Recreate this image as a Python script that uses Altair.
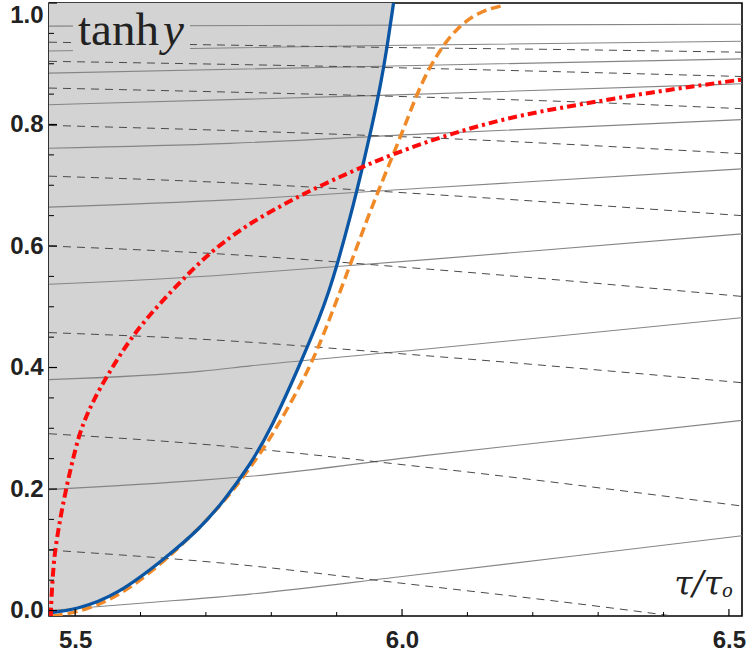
import altair as alt
import pandas as pd

# ---------------- data ----------------
X_DOMAIN = [5.46, 6.52]
Y_DOMAIN = [-0.009, 1.0]

X_LABELS = [5.5, 6.0, 6.5]
X_MINOR = [5.6, 5.7, 5.8, 5.9, 6.1, 6.2, 6.3, 6.4]
Y_LABELS = [0.0, 0.2, 0.4, 0.6, 0.8, 1.0]
Y_MINOR = [0.05, 0.1, 0.15, 0.25, 0.3, 0.35, 0.45, 0.5, 0.55, 0.65, 0.7, 0.75, 0.85, 0.9, 0.95]

BLUE_X = [5.460, 5.500, 5.564, 5.640, 5.691, 5.727, 5.768, 5.800, 5.844, 5.875, 5.888,
          5.9005, 5.921, 5.939, 5.954, 5.967, 5.977, 5.987, 5.989]
BLUE_Y = [-0.004, 0.001, 0.025, 0.088, 0.135, 0.180, 0.240, 0.300, 0.405, 0.485, 0.525,
          0.568, 0.648, 0.727, 0.797, 0.864, 0.926, 1.000, 1.015]

ORANGE_X = [5.466, 5.500, 5.564, 5.640, 5.727, 5.783, 5.809, 5.860, 5.890, 5.921, 5.947,
            5.962, 5.987, 6.008, 6.028, 6.054, 6.084, 6.120, 6.155]
ORANGE_Y = [-0.009, -0.004, 0.020, 0.083, 0.175, 0.258, 0.302, 0.400, 0.482, 0.570, 0.645,
            0.686, 0.752, 0.808, 0.865, 0.917, 0.960, 0.987, 0.996]

RED_X = [5.4628, 5.4635, 5.466, 5.469, 5.482, 5.502, 5.513, 5.528, 5.548, 5.589, 5.640,
         5.701, 5.737, 5.768, 5.839, 5.921, 5.987, 6.074, 6.176, 6.278, 6.380, 6.513, 6.520]
RED_Y = [-0.010, 0.017, 0.060, 0.100, 0.182, 0.275, 0.310, 0.346, 0.385, 0.456, 0.518,
         0.585, 0.614, 0.638, 0.681, 0.722, 0.752, 0.785, 0.815, 0.834, 0.853, 0.873, 0.874]

SOLID_LINES = {
    "s1": ([5.46, 5.60, 5.768, 6.0, 6.25, 6.52], [0.0, 0.012, 0.027, 0.056, 0.088, 0.123]),
    "s2": ([5.46, 5.694, 5.768, 6.03, 6.52], [0.199, 0.2146, 0.221, 0.2546, 0.313]),
    "s3": ([5.46, 5.694, 5.768, 6.03, 6.52], [0.380, 0.394, 0.4027, 0.4296, 0.482]),
    "s4": ([5.46, 5.737, 5.768, 6.043, 6.52], [0.537, 0.553, 0.5556, 0.578, 0.620]),
    "s5": ([5.46, 5.737, 6.043, 6.52], [0.664, 0.676, 0.696, 0.727]),
    "s6": ([5.46, 5.737, 6.043, 6.52], [0.761, 0.769, 0.785, 0.808]),
    "s7": ([5.46, 5.967, 6.52], [0.8326, 0.848, 0.867]),
    "s8": ([5.46, 5.967, 6.52], [0.8846, 0.896, 0.908]),
    "s9": ([5.46, 5.676, 5.967, 6.52], [0.921, 0.925, 0.930, 0.937]),
    "s10": ([5.46, 6.52], [0.962, 0.965]),
}

DASHED_LINES = {
    "a": ([5.46, 5.967, 6.273, 6.52], [0.9355, 0.927, 0.923, 0.919]),
    "b": ([5.46, 5.967, 6.273, 6.52], [0.904, 0.894, 0.886, 0.879]),
    "c": ([5.46, 5.967, 6.273, 6.52], [0.860, 0.847, 0.837, 0.826]),
    "d": ([5.46, 5.737, 6.043, 6.52], [0.7985, 0.790, 0.778, 0.752]),
    "e": ([5.46, 5.737, 6.043, 6.52], [0.715, 0.704, 0.685, 0.650]),
    "f": ([5.46, 5.737, 6.043, 6.52], [0.600, 0.586, 0.5617, 0.517]),
    "g": ([5.46, 5.694, 6.03, 6.52], [0.4575, 0.4465, 0.420, 0.375]),
    "h": ([5.46, 5.694, 6.03, 6.52], [0.291, 0.2738, 0.2366, 0.172]),
    "i": ([5.46, 5.768, 5.967, 6.40, 6.52], [0.0995, 0.0737, 0.049, -0.007, -0.025]),
}

TITLE_Y = ["tanh", "y"]
TITLE_X = ["τ/τ", "o"]

# ---------------- build tables ----------------
def curve_df(xs, ys):
    return pd.DataFrame({"x": xs, "y": ys})

def lines_df(d):
    rows = []
    for k, (xs, ys) in d.items():
        for a, b in zip(xs, ys):
            rows.append({"id": k, "x": a, "y": b})
    return pd.DataFrame(rows)

blue_df = curve_df(BLUE_X, BLUE_Y)
orange_df = curve_df(ORANGE_X, ORANGE_Y)
red_df = curve_df(RED_X, RED_Y)
solid_df = lines_df(SOLID_LINES)
dashed_df = lines_df(DASHED_LINES)

W, H = 693, 613

xscale = alt.Scale(domain=X_DOMAIN, nice=False, zero=False)
yscale = alt.Scale(domain=Y_DOMAIN, nice=False, zero=False)
xaxis = alt.Axis(values=X_LABELS, format=".1f", ticks=False, tickSize=0, domain=False,
                 grid=False, labelFontSize=24, labelFontWeight="bold",
                 labelFont="Liberation Sans", labelColor="#222222", labelPadding=12)
yaxis = alt.Axis(values=Y_LABELS, format=".1f", ticks=False, tickSize=0, domain=False,
                 grid=False, labelFontSize=24, labelFontWeight="bold",
                 labelFont="Liberation Sans", labelColor="#222222", labelPadding=6,
                 labelOffset={"condition": {"test": "datum.value >= 1", "value": 12}, "value": 0})

X = alt.X("x:Q", scale=xscale, axis=xaxis, title=None)
Y = alt.Y("y:Q", scale=yscale, axis=yaxis, title=None)

area = alt.Chart(blue_df).mark_area(orient="horizontal", color="#d3d3d3",
                                    interpolate="basis", clip=True).encode(
    y=Y, x=X, x2=alt.value(0))

solid = alt.Chart(solid_df).mark_line(color="#858585", strokeWidth=1.1,
                                      interpolate="monotone", clip=True).encode(
    x=X, y=Y, detail="id:N")

dashed = alt.Chart(dashed_df).mark_line(color="#4a4a4a", strokeWidth=1.0, strokeDash=[8, 6],
                                        interpolate="monotone", clip=True).encode(
    x=X, y=Y, detail="id:N")

label_bg = alt.Chart(pd.DataFrame({"k": [0]})).mark_rect(color="#d3d3d3").encode(
    x=alt.value(24), x2=alt.value(141), y=alt.value(12), y2=alt.value(53))

tanh_txt = alt.Chart(pd.DataFrame({"t": [TITLE_Y[0]]})).mark_text(
    font="Liberation Serif", fontSize=47, color="#222222", align="left",
    baseline="alphabetic").encode(x=alt.value(29), y=alt.value(42), text="t:N")
y_txt = alt.Chart(pd.DataFrame({"t": [TITLE_Y[1]]})).mark_text(
    font="Liberation Serif", fontSize=47, fontStyle="italic", color="#222222",
    align="left", baseline="alphabetic").encode(x=alt.value(114), y=alt.value(42), text="t:N")

tau_txt = alt.Chart(pd.DataFrame({"t": [TITLE_X[0]]})).mark_text(
    font="DejaVu Serif", fontSize=33, fontStyle="italic", color="#222222",
    align="right", baseline="alphabetic").encode(x=alt.value(673), y=alt.value(592), text="t:N")
o_txt = alt.Chart(pd.DataFrame({"t": [TITLE_X[1]]})).mark_text(
    font="DejaVu Serif", fontSize=18, fontStyle="italic", color="#222222",
    align="left", baseline="alphabetic").encode(x=alt.value(673), y=alt.value(594), text="t:N")

orange = alt.Chart(orange_df).mark_line(color="#f08a28", strokeWidth=3.5, strokeDash=[10, 5],
                                        interpolate="basis", clip=True).encode(x=X, y=Y)
blue = alt.Chart(blue_df).mark_line(color="#0b56a4", strokeWidth=3.3,
                                    interpolate="basis", clip=True).encode(x=X, y=Y)
red = alt.Chart(red_df).mark_line(color="#ff0a0a", strokeWidth=4, strokeDash=[9, 4, 3, 4],
                                  interpolate="basis", clip=True).encode(x=X, y=Y)

xmaj = alt.Chart(pd.DataFrame({"x": X_LABELS})).mark_rule(color="black", strokeWidth=1.2).encode(
    x=X, y=alt.value(H), y2=alt.value(H - 7))
xmin = alt.Chart(pd.DataFrame({"x": X_MINOR})).mark_rule(color="black", strokeWidth=1.0).encode(
    x=X, y=alt.value(H), y2=alt.value(H - 4))
ymaj = alt.Chart(pd.DataFrame({"y": Y_LABELS})).mark_rule(color="black", strokeWidth=1.2).encode(
    y=Y, x=alt.value(0), x2=alt.value(8))
ymin = alt.Chart(pd.DataFrame({"y": Y_MINOR})).mark_rule(color="black", strokeWidth=1.0).encode(
    y=Y, x=alt.value(0), x2=alt.value(5))

chart = alt.layer(
    area, solid, dashed, label_bg, tanh_txt, y_txt, tau_txt, o_txt,
    orange, blue, red, xmaj, xmin, ymaj, ymin
).properties(
    width=W, height=H, autosize="none",
    padding={"left": 49, "top": 3, "right": 9, "bottom": 37},
    background="white",
).configure_view(stroke="black", strokeWidth=1.6)

chart.save("out.html", embed_options={"renderer": "svg", "actions": False})
